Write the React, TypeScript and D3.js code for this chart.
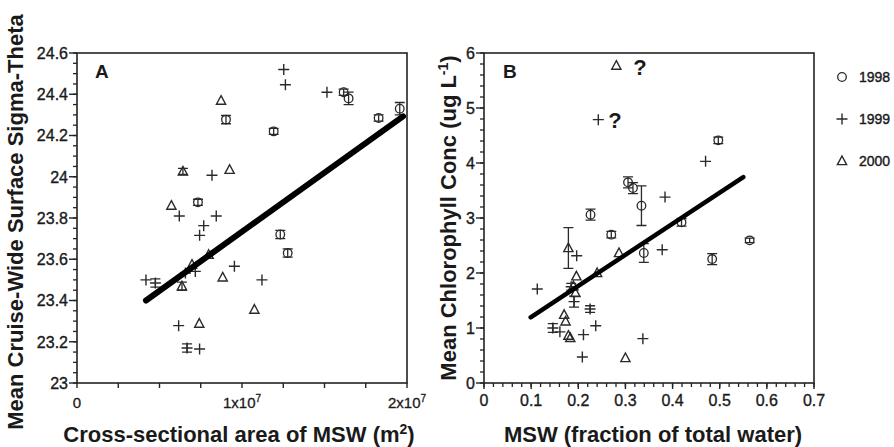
import React from "react";
import * as d3 from "d3";

// ---------- Panel A data (x in units of 1e7 m^2, y = sigma-theta) ----------
const a1998X = [0.903, 1.192, 1.616, 1.646, 1.828, 1.956, 0.733, 1.232, 1.277];
const a1998Y = [24.277, 24.22, 24.41, 24.38, 24.285, 24.33, 23.876, 23.72, 23.63];
const a1998E = [0.02, 0.015, 0.015, 0.03, 0.015, 0.03, 0.015, 0.02, 0.02];

const a1999X = [1.253, 1.263, 1.515, 0.818, 0.62, 0.844, 0.768, 0.743, 0.418, 0.475, 0.657, 0.717, 0.954, 1.121, 0.616, 0.667, 0.743];
const a1999Y = [24.52, 24.446, 24.41, 24.007, 23.81, 23.81, 23.763, 23.716, 23.5, 23.485, 23.533, 23.541, 23.566, 23.5, 23.278, 23.17, 23.165];
const a1999E = [0, 0, 0, 0, 0, 0, 0, 0, 0, 0.02, 0, 0, 0, 0, 0, 0.02, 0];

const a2000X = [0.873, 0.642, 0.925, 0.572, 0.697, 0.798, 0.883, 0.636, 1.075, 0.741];
const a2000Y = [24.369, 24.026, 24.034, 23.86, 23.574, 23.622, 23.512, 23.469, 23.356, 23.288];
const a2000E = [0, 0.015, 0, 0, 0, 0, 0, 0.02, 0, 0];

const aFitX = [0.418, 1.976];
const aFitY = [23.4, 24.293];

// ---------- Panel B data (x = MSW fraction, y = chlorophyll) ----------
const b1998X = [0.3055, 0.316, 0.334, 0.339, 0.226, 0.27, 0.419, 0.497, 0.484, 0.5635];
const b1998Y = [3.648, 3.545, 3.224, 2.364, 3.06, 2.697, 2.921, 4.412, 2.254, 2.594];
const b1998E = [0.1, 0.1, 0.36, 0.17, 0.1, 0.06, 0.07, 0.06, 0.1, 0.04];

const b1999X = [0.2425, 0.47, 0.384, 0.378, 0.1966, 0.113, 0.185, 0.191, 0.225, 0.237, 0.211, 0.2086, 0.337, 0.146, 0.161];
const b1999Y = [4.788, 4.03, 3.38, 2.424, 2.315, 1.709, 1.75, 1.48, 1.345, 1.04, 0.879, 0.473, 0.806, 1.0, 0.93];
const b1999E = [0, 0, 0, 0, 0, 0, 0.06, 0.1, 0.06, 0, 0, 0, 0, 0.08, 0];

const b2000X = [0.2807, 0.179, 0.2864, 0.24, 0.196, 0.1895, 0.194, 0.17, 0.173, 0.179, 0.183, 0.3];
const b2000Y = [5.77, 2.455, 2.364, 2.0, 1.94, 1.76, 1.636, 1.24, 1.12, 0.86, 0.82, 0.455];
const b2000E = [0, 0.37, 0, 0, 0, 0, 0, 0, 0, 0, 0, 0];

const bFitX = [0.099, 0.55];
const bFitY = [1.194, 3.745];

const qMarkX = [0.331, 0.278];
const qMarkY = [5.745, 4.78];

// ---------- Ticks & labels ----------
const aYMajor = [23, 23.2, 23.4, 23.6, 23.8, 24, 24.2, 24.4, 24.6];
const aYLabels = ["23", "23.2", "23.4", "23.6", "23.8", "24", "24.2", "24.4", "24.6"];
const aXTicks = [0, 0.25, 0.5, 0.75, 1, 1.25, 1.5, 1.75, 2];
const aXLabelVals = [0, 1, 2];
const aXLabelMant = ["0", "1x10", "2x10"];
const aXLabelExp = ["", "7", "7"];

const bYMajor = [0, 1, 2, 3, 4, 5, 6];
const bXMajor = [0, 0.1, 0.2, 0.3, 0.4, 0.5, 0.6, 0.7];
const bXLabels = ["0", "0.1", "0.2", "0.3", "0.4", "0.5", "0.6", "0.7"];

const legendLabels = ["1998", "1999", "2000"];
const legendKinds = ["circle", "plus", "triangle"];

const FONT = "'Liberation Sans', Arial, Helvetica, sans-serif";
const INK = "#1a1a1a";
const MK = "#2a2a2a";

function range(a: number, b: number, step: number) {
  const out: number[] = [];
  const n = Math.round((b - a) / step);
  for (let i = 0; i <= n; i++) out.push(+(a + i * step).toFixed(6));
  return out;
}

function Marker({ kind, cx, cy }: { kind: string; cx: number; cy: number }) {
  if (kind === "circle")
    return <circle cx={cx} cy={cy} r={4.3} fill="none" stroke={MK} strokeWidth={1.3} />;
  if (kind === "plus")
    return (
      <path
        d={`M${cx - 5.5},${cy}H${cx + 5.5}M${cx},${cy - 5.5}V${cy + 5.5}`}
        stroke={MK}
        strokeWidth={1.4}
        fill="none"
      />
    );
  return (
    <path
      d={`M${cx},${cy - 5}L${cx + 4.6},${cy + 3.6}L${cx - 4.6},${cy + 3.6}Z`}
      fill="none"
      stroke={MK}
      strokeWidth={1.4}
      strokeLinejoin="miter"
    />
  );
}

function Series({
  xs, ys, es, kind, x, y,
}: {
  xs: number[]; ys: number[]; es: number[]; kind: string;
  x: d3.ScaleLinear<number, number>; y: d3.ScaleLinear<number, number>;
}) {
  return (
    <g>
      {xs.map((xv, i) => {
        const cx = x(xv);
        const cy = y(ys[i]);
        const e = es[i];
        return (
          <g key={i}>
            {e > 0 && (
              <path
                d={`M${cx},${y(ys[i] + e)}V${y(ys[i] - e)}M${cx - 5},${y(ys[i] + e)}H${cx + 5}M${cx - 5},${y(ys[i] - e)}H${cx + 5}`}
                stroke={MK}
                strokeWidth={1.3}
                fill="none"
              />
            )}
            <Marker kind={kind} cx={cx} cy={cy} />
          </g>
        );
      })}
    </g>
  );
}

export default function App() {
  const top = 53, bottom = 383;
  // Panel A
  const ax = d3.scaleLinear().domain([0, 2]).range([77, 407]);
  const ay = d3.scaleLinear().domain([23, 24.6]).range([bottom, top]);
  // Panel B
  const bx = d3.scaleLinear().domain([0, 0.7]).range([484, 814]);
  const by = d3.scaleLinear().domain([0, 6]).range([bottom, top]);

  const line = (xs: number[], ys: number[], x: any, y: any) =>
    d3.line<number>().x((_, i) => x(xs[i])).y((_, i) => y(ys[i]))(xs) || "";

  const aYMinor = range(23, 24.6, 0.05);
  const bYMinor = range(0, 6, 0.2);
  const bXMinor = range(0, 0.7, 0.02);

  const axisStroke = "#222";

  return (
    <svg
      width={894}
      height={447}
      style={{ position: "absolute", left: 0, top: 0, background: "#fff" }}
      fontFamily={FONT}
    >
      <rect x={0} y={0} width={894} height={447} fill="#fff" />

      {/* ===== Panel A ===== */}
      <rect x={77} y={top} width={330} height={330} fill="none" stroke={axisStroke} strokeWidth={1.6} />
      {aYMinor.map((v) => (
        <line key={"aym" + v} x1={77} x2={73} y1={ay(v)} y2={ay(v)} stroke={axisStroke} strokeWidth={1.3} />
      ))}
      {aYMajor.map((v, i) => (
        <g key={"ayM" + v}>
          <line x1={77} x2={69} y1={ay(v)} y2={ay(v)} stroke={axisStroke} strokeWidth={1.4} />
          <text x={68} y={ay(v)} dy="0.36em" textAnchor="end" fontSize={16} fill={INK} stroke={INK} strokeWidth={0.35}>
            {aYLabels[i]}
          </text>
        </g>
      ))}
      {aXTicks.map((v) => (
        <line key={"axt" + v} x1={ax(v)} x2={ax(v)} y1={bottom} y2={bottom + 5} stroke={axisStroke} strokeWidth={1.4} />
      ))}
      {aXLabelVals.map((v, i) => (
        <text key={"axl" + v} x={ax(v)} y={408} textAnchor="middle" fontSize={15} fill={INK} stroke={INK} strokeWidth={0.3}>
          {aXLabelMant[i]}
          {aXLabelExp[i] && (
            <tspan fontSize={10} dy={-6}>
              {aXLabelExp[i]}
            </tspan>
          )}
        </text>
      ))}
      <text x={95} y={78} fontSize={19} fontWeight="bold" fill={INK}>A</text>

      <Series xs={a1998X} ys={a1998Y} es={a1998E} kind="circle" x={ax} y={ay} />
      <Series xs={a1999X} ys={a1999Y} es={a1999E} kind="plus" x={ax} y={ay} />
      <Series xs={a2000X} ys={a2000Y} es={a2000E} kind="triangle" x={ax} y={ay} />
      <path d={line(aFitX, aFitY, ax, ay)} stroke="#000" strokeWidth={6} strokeLinecap="round" fill="none" />

      <text
        transform="translate(23,222) rotate(-90)"
        textAnchor="middle"
        fontSize={22}
        fontWeight="bold"
        fill={INK}
      >
        Mean Cruise-Wide Surface Sigma-Theta
      </text>
      <text x={239} y={442} textAnchor="middle" fontSize={22} fontWeight="bold" fill={INK}>
        Cross-sectional area of MSW (m
        <tspan fontSize={14} dy={-8}>2</tspan>
        <tspan dy={8}>)</tspan>
      </text>

      {/* ===== Panel B ===== */}
      <rect x={484} y={top} width={330} height={330} fill="none" stroke={axisStroke} strokeWidth={1.6} />
      {bYMinor.map((v) => (
        <line key={"bym" + v} x1={484} x2={480} y1={by(v)} y2={by(v)} stroke={axisStroke} strokeWidth={1.3} />
      ))}
      {bYMajor.map((v) => (
        <g key={"byM" + v}>
          <line x1={484} x2={476} y1={by(v)} y2={by(v)} stroke={axisStroke} strokeWidth={1.4} />
          <text x={475} y={by(v)} dy="0.36em" textAnchor="end" fontSize={16} fill={INK} stroke={INK} strokeWidth={0.35}>
            {String(v)}
          </text>
        </g>
      ))}
      {bXMinor.map((v) => (
        <line key={"bxm" + v} x1={bx(v)} x2={bx(v)} y1={bottom} y2={bottom + 4} stroke={axisStroke} strokeWidth={1.3} />
      ))}
      {bXMajor.map((v, i) => (
        <g key={"bxM" + v}>
          <line x1={bx(v)} x2={bx(v)} y1={bottom} y2={bottom + 6} stroke={axisStroke} strokeWidth={1.4} />
          <text x={bx(v)} y={406} textAnchor="middle" fontSize={16} fill={INK} stroke={INK} strokeWidth={0.35}>
            {bXLabels[i]}
          </text>
        </g>
      ))}
      <text x={503} y={78} fontSize={19} fontWeight="bold" fill={INK}>B</text>

      <Series xs={b1998X} ys={b1998Y} es={b1998E} kind="circle" x={bx} y={by} />
      <Series xs={b1999X} ys={b1999Y} es={b1999E} kind="plus" x={bx} y={by} />
      <Series xs={b2000X} ys={b2000Y} es={b2000E} kind="triangle" x={bx} y={by} />
      <path d={line(bFitX, bFitY, bx, by)} stroke="#000" strokeWidth={4.5} strokeLinecap="round" fill="none" />

      {qMarkX.map((v, i) => (
        <text key={"q" + i} x={bx(v)} y={by(qMarkY[i])} dy="0.36em" textAnchor="middle" fontSize={22} fontWeight="bold" fill={INK}>
          ?
        </text>
      ))}

      <text
        transform="translate(456,218) rotate(-90)"
        textAnchor="middle"
        fontSize={22}
        fontWeight="bold"
        fill={INK}
      >
        Mean Chlorophyll Conc (ug L
        <tspan fontSize={14} dy={-8}>-1</tspan>
        <tspan dy={8}>)</tspan>
      </text>
      <text x={653} y={442} textAnchor="middle" fontSize={22} fontWeight="bold" fill={INK}>
        MSW (fraction of total water)
      </text>

      {/* Legend */}
      {legendLabels.map((lab, i) => {
        const ly = 77 + i * 42;
        return (
          <g key={lab}>
            <Marker kind={legendKinds[i]} cx={842} cy={ly} />
            <text x={859} y={ly} dy="0.36em" fontSize={14} fill={INK} stroke={INK} strokeWidth={0.4}>
              {lab}
            </text>
          </g>
        );
      })}
    </svg>
  );
}
